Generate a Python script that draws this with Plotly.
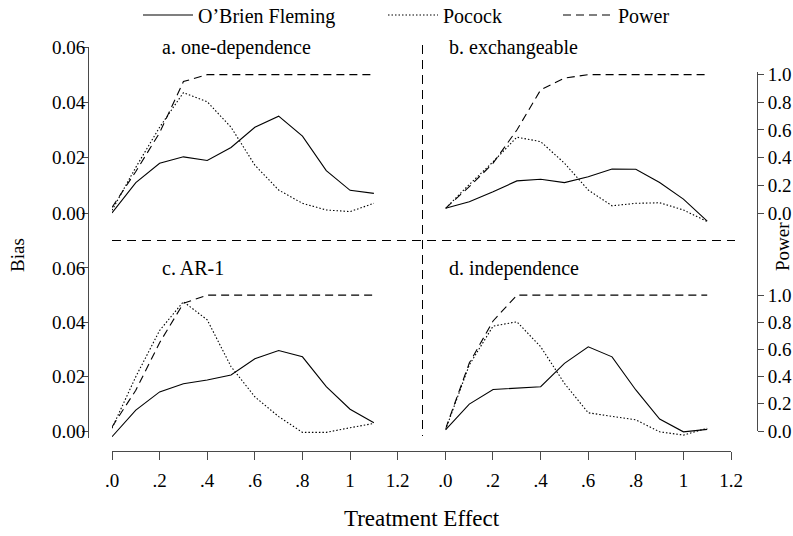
import plotly.graph_objects as go

# ---------------- data ----------------
effect = [0.0, 0.1, 0.2, 0.3, 0.4, 0.5, 0.6, 0.7, 0.8, 0.9, 1.0, 1.1]

a_obf = [0.000, 0.011, 0.018, 0.0203, 0.019, 0.0237, 0.031, 0.035, 0.0278, 0.0153, 0.0082, 0.0071]
a_poc = [0.001, 0.0165, 0.031, 0.0435, 0.0402, 0.031, 0.0173, 0.0083, 0.0035, 0.0011, 0.0005, 0.0035]
a_pow = [0.04, 0.30, 0.58, 0.95, 1.0, 1.0, 1.0, 1.0, 1.0, 1.0, 1.0, 1.0]

b_obf = [0.0017, 0.0041, 0.0077, 0.0116, 0.0122, 0.011, 0.0131, 0.0159, 0.0158, 0.011, 0.005, -0.0029]
b_poc = [0.0017, 0.0103, 0.0185, 0.0274, 0.0258, 0.018, 0.0083, 0.0026, 0.0035, 0.0037, 0.0011, -0.0031]
b_pow = [0.034, 0.19, 0.36, 0.60, 0.89, 0.975, 1.0, 1.0, 1.0, 1.0, 1.0, 1.0]

c_obf = [-0.0021, 0.0077, 0.0144, 0.0174, 0.0188, 0.0206, 0.0266, 0.0296, 0.0273, 0.0163, 0.008, 0.003]
c_poc = [0.001, 0.020, 0.0370, 0.0476, 0.0409, 0.0237, 0.0126, 0.0053, -0.0005, -0.0005, 0.0012, 0.0028]
c_pow = [0.03, 0.30, 0.65, 0.94, 1.0, 1.0, 1.0, 1.0, 1.0, 1.0, 1.0, 1.0]

d_obf = [0.0004, 0.0099, 0.0153, 0.0157, 0.0163, 0.0249, 0.031, 0.0273, 0.0151, 0.0044, -0.0003, 0.0006]
d_poc = [0.0004, 0.0243, 0.0386, 0.0402, 0.031, 0.0175, 0.0067, 0.0053, 0.0041, -0.0003, -0.0015, 0.001]
d_pow = [0.015, 0.50, 0.81, 1.0, 1.0, 1.0, 1.0, 1.0, 1.0, 1.0, 1.0, 1.0]

panel_titles = ["a. one-dependence", "b. exchangeable", "c. AR-1", "d. independence"]
series_names = ["O\u2019Brien Fleming", "Pocock", "Power"]

x_tickvals = [0.0, 0.2, 0.4, 0.6, 0.8, 1.0, 1.2, 1.4, 1.6, 1.8, 2.0, 2.2, 2.4, 2.6]
x_ticktext = [".0", ".2", ".4", ".6", ".8", "1", "1.2", ".0", ".2", ".4", ".6", ".8", "1", "1.2"]
bias_ticks = [0.0, 0.02, 0.04, 0.06]
power_ticks = [0.0, 0.2, 0.4, 0.6, 0.8, 1.0]

# ---------------- layout helpers ----------------
W, H = 793, 536
def px(x):
    return x / W
def py(y):
    return 1 - y / H

FONT = "Liberation Serif"
FS = 19
AX = "#4a4a4a"
LW = 1.1
styles = {
    "obf": dict(color="black", width=LW, dash="solid"),
    "poc": dict(color="black", width=LW, dash="1.5px,2px"),
    "pow": dict(color="black", width=LW, dash="8px,5px"),
}

fig = go.Figure()

panels = [
    (a_obf, a_poc, a_pow, "x", "y", "y3"),
    (b_obf, b_poc, b_pow, "x2", "y", "y3"),
    (c_obf, c_poc, c_pow, "x", "y2", "y4"),
    (d_obf, d_poc, d_pow, "x2", "y2", "y4"),
]
for i, (obf, poc, pw, xa, ya, ypa) in enumerate(panels):
    first = i == 0
    fig.add_trace(go.Scatter(x=effect, y=obf, mode="lines", line=styles["obf"],
                             name=series_names[0], xaxis=xa, yaxis=ya,
                             showlegend=first, legend="legend"))
    fig.add_trace(go.Scatter(x=effect, y=poc, mode="lines", line=styles["poc"],
                             name=series_names[1], xaxis=xa, yaxis=ya,
                             showlegend=first, legend="legend2"))
    fig.add_trace(go.Scatter(x=effect, y=pw, mode="lines", line=styles["pow"],
                             name=series_names[2], xaxis=xa, yaxis=ypa,
                             showlegend=first, legend="legend3"))

common_ax = dict(showgrid=False, zeroline=False, showline=True, linecolor=AX,
                 linewidth=1, ticks="outside", tickcolor=AX, tickwidth=1,
                 automargin=False)

leg = dict(orientation="h", y=py(15), xanchor="left", yanchor="middle",
           font=dict(size=FS + 1), itemwidth=50, bgcolor="rgba(0,0,0,0)")

fig.update_layout(
    width=W, height=H,
    margin=dict(l=0, r=0, t=0, b=0, autoexpand=False),
    paper_bgcolor="white", plot_bgcolor="rgba(0,0,0,0)",
    font=dict(family=FONT, size=FS, color="black"),
    xaxis=dict(domain=[px(112), px(731)], range=[0, 2.6], anchor="free",
               position=py(451), tickvals=x_tickvals, ticktext=x_ticktext,
               ticklen=8, ticklabelstandoff=4,
               title=dict(text="Treatment Effect", standoff=20),
               **common_ax),
    xaxis2=dict(domain=[px(445.5), px(731)], range=[0, 1.2], visible=False,
                anchor="free", position=0),
    yaxis=dict(domain=[py(240), py(47)], range=[-(240 - 213) / 2767, 0.06],
               anchor="free", position=px(88), tickvals=bias_ticks,
               tickformat=".2f", ticklen=6, ticklabelstandoff=-7, **common_ax),
    yaxis2=dict(domain=[py(438), py(240)], range=[-(438 - 431) / 2717, (431 - 240) / 2717],
                anchor="free", position=px(88), tickvals=bias_ticks,
                tickformat=".2f", ticklen=6, ticklabelstandoff=-7, **common_ax),
    yaxis3=dict(domain=[py(240), py(72)], range=[-(240 - 213) / 138.35, (213 - 72) / 138.35],
                anchor="free", position=px(757), side="right", tickvals=power_ticks,
                tickformat=".1f", ticklen=6, ticklabelstandoff=0, **common_ax),
    yaxis4=dict(domain=[py(431), py(240)], range=[0, (431 - 240) / 135.85],
                anchor="free", position=px(757), side="right", tickvals=power_ticks,
                tickformat=".1f", ticklen=6, ticklabelstandoff=0, **common_ax),
    legend=dict(x=px(138), **leg),
    legend2=dict(x=px(383), **leg),
    legend3=dict(x=px(558), **leg),
)

# separators
fig.add_shape(type="line", xref="paper", yref="paper", x0=px(112), x1=px(735),
              y0=py(240.5), y1=py(240.5), line=dict(color="black", width=1, dash="9px,6px"))
fig.add_shape(type="line", xref="paper", yref="paper", x0=px(422.5), x1=px(422.5),
              y0=py(45), y1=py(436), line=dict(color="black", width=1, dash="9px,6px"))

# panel titles
title_pos = [(160, 47), (447, 47), (160, 268), (447, 268)]
for t, (tx, ty) in zip(panel_titles, title_pos):
    fig.add_annotation(text=t, x=px(tx), y=py(ty), xref="paper", yref="paper",
                       xanchor="left", yanchor="middle", showarrow=False,
                       font=dict(size=FS + 1))

# axis titles
fig.add_annotation(text="Bias", x=px(17), y=py(255), xref="paper", yref="paper",
                   textangle=-90, showarrow=False, xanchor="center", yanchor="middle")
fig.add_annotation(text="Power", x=px(783), y=py(247), xref="paper", yref="paper",
                   textangle=-90, showarrow=False, xanchor="center", yanchor="middle")

fig.write_html(
    "out.html",
    config={"displayModeBar": False},
    post_script="document.body.style.margin='0px';document.body.style.overflow='hidden';",
)
